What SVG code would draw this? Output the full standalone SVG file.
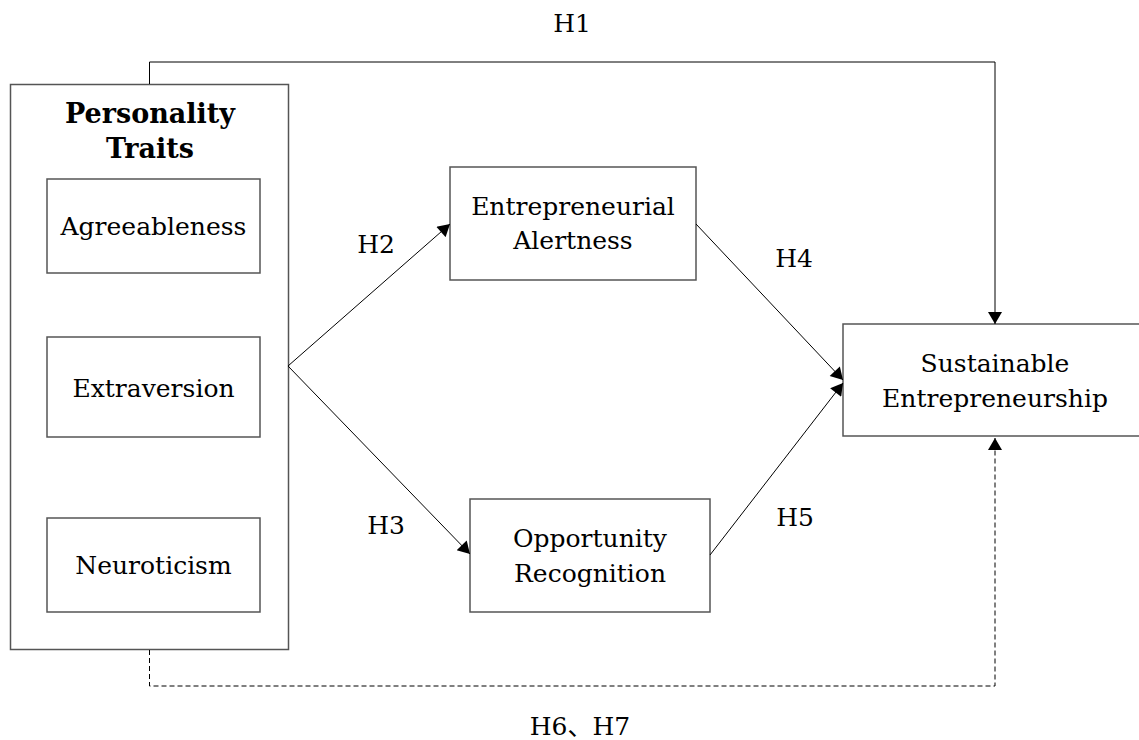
<svg xmlns="http://www.w3.org/2000/svg" width="1139" height="740" viewBox="0 0 1139 740">
<style>
text{font-family:"DejaVu Serif","Liberation Serif",serif;font-size:25px;fill:#000;text-anchor:middle}
.b{font-weight:bold;font-size:27px}
.box{fill:#fff;stroke:#555;stroke-width:1.5}
.ln{fill:none;stroke:#000;stroke-width:1}
.dash{stroke-dasharray:5,3}
</style>
<defs>
<marker id="ah" markerUnits="userSpaceOnUse" markerWidth="14" markerHeight="14" viewBox="0 0 12 14" refX="12" refY="7" orient="auto">
<path d="M0,0 L12,7 L0,14 Z" fill="#000"/>
</marker>
</defs>
<rect width="1139" height="740" fill="#fff"/>
<g id="personality">
<rect class="box" x="10.5" y="84.5" width="278" height="565"/>
<text class="b" x="150" y="123">Personality</text>
<text class="b" x="150" y="158">Traits</text>
</g>
<g id="agreeableness">
<rect class="box" x="47" y="179" width="213" height="94"/>
<text x="153.5" y="235">Agreeableness</text>
</g>
<g id="extraversion">
<rect class="box" x="47" y="337" width="213" height="100"/>
<text x="153.5" y="397">Extraversion</text>
</g>
<g id="neuroticism">
<rect class="box" x="47" y="518" width="213" height="94"/>
<text x="153.5" y="574">Neuroticism</text>
</g>
<g id="alertness">
<rect class="box" x="450" y="167" width="246" height="113"/>
<text x="573" y="215">Entrepreneurial</text>
<text x="573" y="249">Alertness</text>
</g>
<g id="opportunity">
<rect class="box" x="470" y="499" width="240" height="113"/>
<text x="590" y="547">Opportunity</text>
<text x="590" y="582">Recognition</text>
</g>
<g id="sustainable">
<rect class="box" x="843" y="324" width="310" height="112"/>
<text x="995" y="372">Sustainable</text>
<text x="995" y="407">Entrepreneurship</text>
</g>
<g id="connectors">
<polyline class="ln" points="149.5,84 149.5,62 995,62 995,324" marker-end="url(#ah)"/>
<polyline class="ln dash" points="149.5,650 149.5,686 995,686 995,438" marker-end="url(#ah)"/>
<line class="ln" x1="288" y1="366" x2="450" y2="224" marker-end="url(#ah)"/>
<line class="ln" x1="288" y1="366" x2="470" y2="554" marker-end="url(#ah)"/>
<line class="ln" x1="696" y1="224" x2="843" y2="380" marker-end="url(#ah)"/>
<line class="ln" x1="710" y1="555" x2="843" y2="383" marker-end="url(#ah)"/>
</g>
<g id="labels">
<text x="572" y="32">H1</text>
<text x="376" y="253">H2</text>
<text x="386" y="534">H3</text>
<text x="794" y="267">H4</text>
<text x="795" y="526">H5</text>
<text x="580" y="735" style="font-family:'DejaVu Serif','Noto Sans CJK SC',serif">H6、H7</text>
</g>
</svg>
